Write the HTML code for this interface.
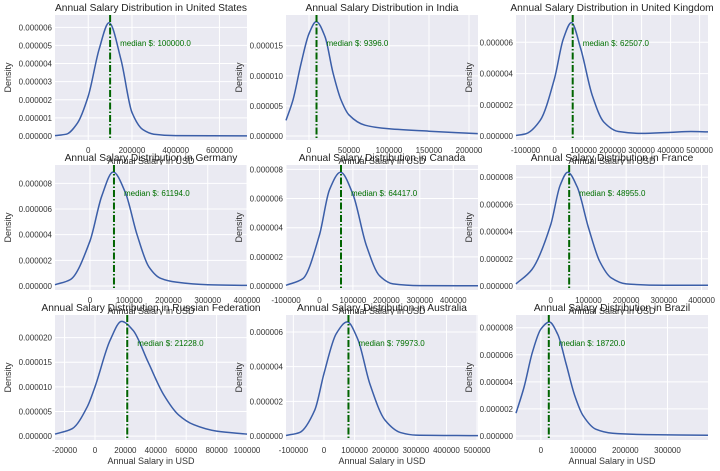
<!DOCTYPE html>
<html><head><meta charset="utf-8"><style>
body{margin:0;background:#fff;}
svg{display:block;font-family:"Liberation Sans",sans-serif;}
</style></head><body>
<svg id="fig" width="720" height="471" viewBox="0 0 720 471"></svg>
<script>
const countries=["United States","India","United Kingdom","Germany","Canada","France","Russian Federation","Australia","Brazil"];
const medians=[100000,9396,62507,61194,64417,48955,21228,79973,18720];
const xLims=[[-152000,726000],[-28750,211250],[-133000,529000],[-89000,400000],[-100000,474000],[-92000,417000],[-26300,100000],[-124000,503000],[-59000,396000]];
const yLims=[[-0.22,6.68],[-0.66,20.1],[-0.24,7.74],[-0.31,9.43],[-0.27,8.3],[-0.3,8.9],[-0.8,24.6],[-0.23,6.98],[-0.3,8.94]];
const xTicks=[[0,200000,400000,600000],[0,50000,100000,150000,200000],[-100000,0,100000,200000,300000,400000,500000],[0,100000,200000,300000,400000],[-100000,0,100000,200000,300000,400000],[0,100000,200000,300000,400000],[-20000,0,20000,40000,60000,80000,100000],[-100000,0,100000,200000,300000,400000,500000],[0,100000,200000,300000]];
const yTicks=[[0,1,2,3,4,5,6],[0,5,10,15],[0,2,4,6],[0,2,4,6,8],[0,2,4,6,8],[0,2,4,6,8],[0,5,10,15,20],[0,2,4,6],[0,2,4,6,8]];
const curveX=[
[-152000,-100000,-50000,0,50000,95000,150000,200000,250000,300000,400000,726000],
[-28750,-20000,-10000,0,9000,20000,30000,40000,50000,70000,100000,150000,211000],
[-133000,-100000,-50000,0,30000,58000,90000,130000,170000,220000,300000,400000,470000,529000],
[-89000,-50000,0,30000,59000,90000,120000,150000,180000,220000,300000,400000],
[-100000,-50000,0,30000,63000,100000,140000,180000,220000,300000,474000],
[-92000,-50000,0,25000,45000,70000,100000,130000,160000,200000,300000,417000],
[-26300,-15000,-5000,0,10000,17500,25000,35000,45000,55000,65000,80000,100000],
[-124000,-80000,-30000,0,40000,76000,110000,150000,200000,250000,300000,503000],
[-59000,-40000,-20000,0,20000,40000,60000,80000,100000,130000,170000,250000,396000]];
const curveY=[
[0.02,0.1,0.7,2.2,4.8,6.25,4.2,1.3,0.35,0.1,0.02,0.01],
[2.6,6,12,17,19,16.5,10.5,6,3.5,1.8,1.2,0.8,0.4],
[0.05,0.15,1.0,3.7,6.2,7.25,5.6,2.6,0.9,0.3,0.18,0.25,0.3,0.28],
[0.1,0.5,3.5,7.0,8.88,7.3,4.0,1.5,0.6,0.3,0.1,0.05],
[0.05,0.5,3.5,6.6,7.8,6.3,2.8,0.7,0.15,0.03,0.02],
[0.15,1.2,4.5,7.4,8.37,7.3,4.3,1.8,0.6,0.15,0.05,0.05],
[0.4,1.5,6,10,19.5,23.3,21.5,15,8.5,4.3,2.3,1.0,0.4],
[0.03,0.2,1.5,3.6,5.9,6.58,5.6,3.0,0.9,0.2,0.05,0.02],
[1.68,3.6,6.2,7.9,8.42,7.5,5.3,3.0,1.5,0.5,0.2,0.1,0.05]];
const colsX=[[55,247],[286,478],[516,708]];
const rowsY=[[15,140],[165,290],[315,440]];
const NS="http://www.w3.org/2000/svg";
const svg=document.getElementById('fig');
function mk(tag,attrs,parent){const e=document.createElementNS(NS,tag);for(const k in attrs)e.setAttribute(k,attrs[k]);(parent||svg).appendChild(e);return e;}
function slug(s){return s.toLowerCase().replace(/ /g,'-');}
function monoPath(pts){
  const n=pts.length,dx=[],m=[],t=new Array(n);
  for(let k=0;k<n-1;k++){dx[k]=pts[k+1][0]-pts[k][0];m[k]=(pts[k+1][1]-pts[k][1])/dx[k];}
  t[0]=m[0];t[n-1]=m[n-2];
  for(let k=1;k<n-1;k++){
    if(m[k-1]*m[k]<=0)t[k]=0;
    else{const w1=2*dx[k]+dx[k-1],w2=dx[k]+2*dx[k-1];t[k]=(w1+w2)/(w1/m[k-1]+w2/m[k]);}
  }
  let d='M'+pts[0][0].toFixed(2)+','+pts[0][1].toFixed(2);
  for(let k=0;k<n-1;k++){
    const h=dx[k]/3;
    d+=` C${(pts[k][0]+h).toFixed(2)},${(pts[k][1]+t[k]*h).toFixed(2)} ${(pts[k+1][0]-h).toFixed(2)},${(pts[k+1][1]-t[k+1]*h).toFixed(2)} ${pts[k+1][0].toFixed(2)},${pts[k+1][1].toFixed(2)}`;
  }
  return d;
}
countries.forEach((c,i)=>{
  const [L,R]=colsX[i%3],[T,B]=rowsY[Math.floor(i/3)];
  const [x0,x1]=xLims[i],[y0,y1]=yLims[i];
  const sx=v=>L+(v-x0)/(x1-x0)*(R-L);
  const sy=v=>B-(v-y0)/(y1-y0)*(B-T);
  const g=mk('g',{});
  
  
  const bg=mk('rect',{x:L,y:T,width:R-L,height:B-T,fill:'#eaeaf2'},g);
  
  
  xTicks[i].forEach(t=>{
    const gl=mk('line',{x1:sx(t),x2:sx(t),y1:T,y2:B,stroke:'#fff','stroke-width':1},g);
    
    
    const tl=mk('text',{x:sx(t),y:B+13,'font-size':8,fill:'#333','text-anchor':'middle'},g);
    tl.textContent=t;
    
    
  });
  yTicks[i].forEach(t=>{
    const gl=mk('line',{x1:L,x2:R,y1:sy(t),y2:sy(t),stroke:'#fff','stroke-width':1},g);
    
    
    const tl=mk('text',{x:L-3,y:sy(t)+3,'font-size':8,fill:'#333','text-anchor':'end'},g);
    tl.textContent=(t*1e-6).toFixed(6);
    
    
  });
  const pts=curveX[i].map((x,k)=>[sx(x),sy(curveY[i][k])]);
  const cl=mk('path',{d:monoPath(pts),fill:'none',stroke:'#3b5ea8','stroke-width':1.5},g);
  
  
  const mx=sx(medians[i]);
  const ml=mk('line',{x1:mx,x2:mx,y1:T,y2:B,stroke:'#006400','stroke-width':2,'stroke-dasharray':'7,2,1.5,2'},g);
  
  
  const mt=mk('text',{x:mx+10,y:T+31,'font-size':8,fill:'#007000'},g);
  mt.textContent='median $: '+medians[i].toFixed(1);
  
  
  const ti=mk('text',{x:(L+R)/2,y:T-4,'font-size':10.2,fill:'#222','text-anchor':'middle'},g);
  ti.textContent='Annual Salary Distribution in '+c;
  
  
  const xl=mk('text',{x:(L+R)/2,y:B+24,'font-size':9,fill:'#333','text-anchor':'middle'},g);
  xl.textContent='Annual Salary in USD';
  
  
  const yx=L-44, yy=(T+B)/2;
  const yl=mk('text',{x:yx,y:yy,'font-size':9,fill:'#333','text-anchor':'middle',transform:`rotate(-90 ${yx} ${yy})`},g);
  yl.textContent='Density';
  
  
});
</script>
</body></html>
